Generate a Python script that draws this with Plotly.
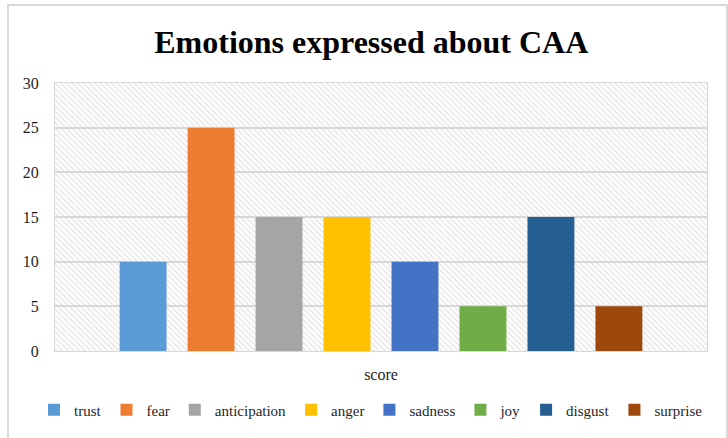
import plotly.graph_objects as go

# ---- data ----
emotions = ["trust", "fear", "anticipation", "anger", "sadness", "joy", "disgust", "surprise"]
scores = [10, 25, 15, 15, 10, 5, 15, 5]
category = ["score"]
colors = ["#5B9BD5", "#ED7D31", "#A5A5A5", "#FFC000", "#4472C4", "#70AD47", "#255E91", "#9E480E"]
y_ticks = [0, 5, 10, 15, 20, 25, 30]

W, H = 728, 438
ML, MR, MT, MB = 55, 21, 83, 87
PW, PH = W - ML - MR, H - MT - MB

SERIF = "Liberation Serif"

fig = go.Figure()

# hatched plot-area background on hidden base axes
fig.add_trace(go.Scatter(
    x=[0, 1, 1, 0, 0], y=[0, 0, 1, 1, 0], xaxis="x", yaxis="y",
    mode="lines", line=dict(width=0), fill="toself",
    fillcolor="rgba(0,0,0,0)",
    fillpattern=dict(shape="\\", fgcolor="#d2d2d2", bgcolor="rgba(0,0,0,0)",
                     size=4, solidity=0.4, fillmode="overlay"),
    showlegend=False, hoverinfo="skip",
))

for name, val, col in zip(emotions, scores, colors):
    fig.add_trace(go.Bar(
        x=category, y=[val], name=name, marker=dict(color=col, line=dict(width=0)),
        xaxis="x2", yaxis="y2",
    ))

# helpers: pixel -> paper coords
def px_x(p):
    return (p - ML) / PW

def px_y(p):
    return (H - MB - p) / PH

# outer chart border
fig.add_shape(type="rect", xref="paper", yref="paper",
              x0=px_x(8), x1=px_x(727), y0=px_y(445), y1=px_y(5),
              line=dict(color="#d9d9d9", width=2), layer="below")

fig.update_layout(
    width=W, height=H,
    margin=dict(l=ML, r=MR, t=MT, b=MB, autoexpand=False),
    paper_bgcolor="white", plot_bgcolor="white",
    barmode="group", bargap=0.166, bargroupgap=0.31,
    title=dict(text="<b>Emotions expressed about CAA</b>", x=0.51, xanchor="center",
               y=1 - 42 / H, yanchor="middle", yref="container",
               font=dict(family=SERIF, size=32, color="black")),
    font=dict(family=SERIF, size=16, color="#1f1f1f"),
    xaxis=dict(range=[0, 1], visible=False, fixedrange=True),
    yaxis=dict(range=[0, 1], visible=False, fixedrange=True),
    xaxis2=dict(overlaying="x", anchor="y2", type="category", automargin=False,
                showline=True, mirror=True, linecolor="#d9d9d9", linewidth=1,
                ticks="outside", ticklen=9, tickcolor="rgba(0,0,0,0)",
                showgrid=False, tickfont=dict(family=SERIF, size=16, color="#1f1f1f")),
    yaxis2=dict(overlaying="y", anchor="x2", range=[0, 30], tickvals=y_ticks, automargin=False,
                showline=True, mirror=True, linecolor="#d9d9d9", linewidth=1,
                showgrid=True, gridcolor="#d9d9d9", gridwidth=1.5, zeroline=False,
                ticks="outside", ticklen=12, tickcolor="rgba(0,0,0,0)",
                tickfont=dict(family=SERIF, size=16, color="#1f1f1f")),
    legend=dict(orientation="h", xref="paper", yref="paper",
                x=px_x(34), xanchor="left", y=px_y(410), yanchor="middle",
                font=dict(family=SERIF, size=15, color="#1f1f1f"),
                itemwidth=30, tracegroupgap=0),
)

fig.write_html("out.html", config={"displayModeBar": False},
               post_script="document.body.style.margin='0';")
